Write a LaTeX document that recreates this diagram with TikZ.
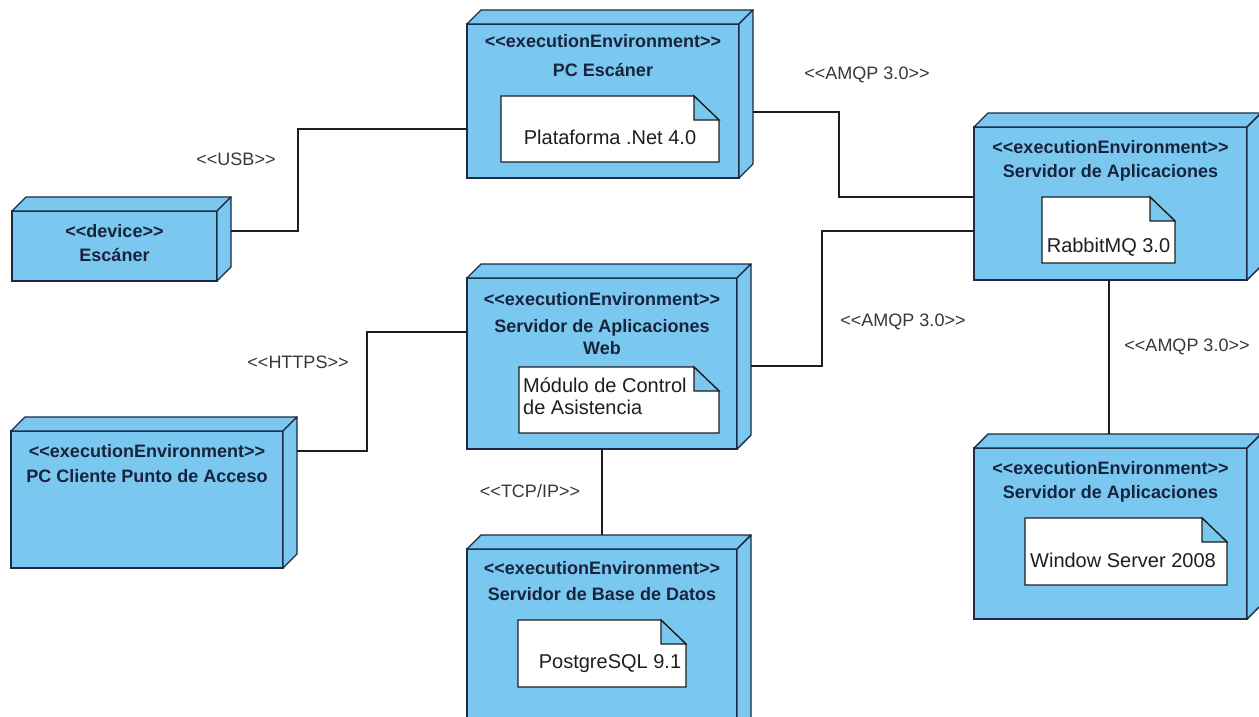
\documentclass[tikz,border=0pt]{standalone}
\usepackage{fontspec}
\setmainfont{Liberation Sans}[Ligatures=TeXOff]
\usetikzlibrary{calc}

\definecolor{nodeblue}{RGB}{122,199,240}
\definecolor{edgenavy}{RGB}{28,42,68}
\definecolor{headtext}{RGB}{24,36,60}
\definecolor{labelgray}{RGB}{55,55,55}
\definecolor{inkdark}{RGB}{30,30,30}

\tikzset{
  frontface/.style={draw=edgenavy, fill=nodeblue, line width=1.4pt,
    inner sep=0pt, outer sep=0pt, anchor=north west},
  depthface/.style={draw=edgenavy, fill=nodeblue, line width=1.4pt, line join=round},
  headline/.style={font=\bfseries\fontsize{18}{22}\selectfont, text=headtext,
    anchor=base, inner sep=0pt},
  notebody/.style={inner sep=0pt, outer sep=0pt, anchor=north west},
  noteline/.style={draw=inkdark, fill=white, line width=1.3pt},
  notefold/.style={draw=inkdark, fill=nodeblue, line width=1.3pt},
  notetext/.style={font=\fontsize{20}{22}\selectfont, text=inkdark,
    anchor=base, inner sep=0pt},
  conn/.style={draw=inkdark, line width=1.3pt},
  connlabel/.style={font=\fontsize{18}{20}\selectfont, text=labelgray, inner sep=1pt},
}

% deployment node: name, left, top, width, height (3D box, depth 14)
\newcommand\depnode[5]{%
  \node[frontface, minimum width=#4pt, minimum height=#5pt] (#1) at (#2,#3) {};
  \path[depthface] (#1.north west) -- ++(14,-14) -- ($(#1.north east)+(14,-14)$)
    -- (#1.north east) -- cycle;
  \path[depthface] (#1.north east) -- ($(#1.north east)+(14,-14)$)
    -- ($(#1.south east)+(14,-14)$) -- (#1.south east) -- cycle;
}

% note with folded corner: name, left, top, width, height
\newcommand\umlnote[5]{%
  \node[notebody, minimum width=#4pt, minimum height=#5pt] (#1) at (#2,#3) {};
  \path[noteline] (#1.north west) -- ($(#1.north east)+(-25,0)$)
    -- ($(#1.north east)+(0,24)$) -- (#1.south east) -- (#1.south west) -- cycle;
  \path[notefold] ($(#1.north east)+(-25,0)$) -- ($(#1.north east)+(-25,24)$)
    -- ($(#1.north east)+(0,24)$) -- cycle;
}

\begin{document}
\begin{tikzpicture}[x=1pt, y=-1pt]
\useasboundingbox (0,0) rectangle (1259,717);
\clip (0,0) rectangle (1259,717);

% nodes
\depnode{pce}{467}{24}{272}{154}
\depnode{dev}{12}{211}{205}{70}
\depnode{srv}{974}{127}{273}{153}
\depnode{web}{467}{278}{270}{171}
\depnode{cli}{11}{431}{272}{137}
\depnode{bd}{467}{549}{270}{190}
\depnode{win}{974}{448}{273}{171}

% node titles
\node[headline] (pceA) at ($(pce.north)+(0,24)$) {<<executionEnvironment>>};
\node[headline] (pceB) at ($(pce.north)+(0,53)$) {PC Escáner};

\node[headline] (devA) at ($(dev.north)+(0,26)$) {<<device>>};
\node[headline] (devB) at ($(dev.north)+(0,50)$) {Escáner};

\node[headline] (srvA) at ($(srv.north)+(0,26)$) {<<executionEnvironment>>};
\node[headline] (srvB) at ($(srv.north)+(0,50)$) {Servidor de Aplicaciones};

\node[headline] (webA) at ($(web.north)+(0,27)$) {<<executionEnvironment>>};
\node[headline] (webB) at ($(web.north)+(0,54)$) {Servidor de Aplicaciones};
\node[headline] (webC) at ($(web.north)+(0,76)$) {Web};

\node[headline] (cliA) at ($(cli.north)+(0,26)$) {<<executionEnvironment>>};
\node[headline] (cliB) at ($(cli.north)+(0,51)$) {PC Cliente Punto de Acceso};

\node[headline] (bdA) at ($(bd.north)+(0,25)$) {<<executionEnvironment>>};
\node[headline] (bdB) at ($(bd.north)+(0,51)$) {Servidor de Base de Datos};

\node[headline] (winA) at ($(win.north)+(0,26)$) {<<executionEnvironment>>};
\node[headline] (winB) at ($(win.north)+(0,50)$) {Servidor de Aplicaciones};

% artifacts inside the nodes
\umlnote{netnote}{501}{96}{218}{66}
\node[notetext] (netT) at ($(netnote.north)+(0,48)$) {Plataforma .Net 4.0};

\umlnote{rabbitnote}{1042}{197}{133}{66}
\node[notetext] (rabbitT) at ($(rabbitnote.north)+(0,55)$) {RabbitMQ 3.0};

\umlnote{modnote}{519}{367}{200}{66}
\node[notetext, anchor=base west] (modT1) at ($(modnote.north west)+(4,25)$) {Módulo de Control};
\node[notetext, anchor=base west] (modT2) at ($(modnote.north west)+(4,47)$) {de Asistencia};

\umlnote{pgnote}{518}{620}{168}{67}
\node[notetext] (pgT) at ($(pgnote.north)+(8,48)$) {PostgreSQL 9.1};

\umlnote{winnote}{1025}{518}{202}{67}
\node[notetext] (winT) at ($(winnote.north)+(-3,49)$) {Window Server 2008};

% connectors
\draw[conn] ($(dev.north east)+(14,20)$) -| ($(pce.north west)+(-169,105)$)
  -- ($(pce.north west)+(0,105)$);
\draw[conn] ($(cli.north east)+(14,20)$) -| ($(web.north west)+(-100,54)$)
  -- ($(web.north west)+(0,54)$);
\draw[conn] ($(pce.north east)+(14,88)$) -| ($(srv.north west)+(-135,70)$)
  -- ($(srv.north west)+(0,70)$);
\draw[conn] ($(web.north east)+(14,88)$) -| ($(srv.north west)+(-152,104)$)
  -- ($(srv.north west)+(0,104)$);
\draw[conn] ($(srv.south west)+(135,0)$) -- ($(win.north west)+(135,-14)$);
\draw[conn] ($(web.south west)+(135,0)$) -- ($(bd.north west)+(135,-14)$);

% connector labels
\node[connlabel] (lusb) at (236,159) {<<USB>>};
\node[connlabel] (lhttps) at (298,362) {<<HTTPS>>};
\node[connlabel] (lamqpA) at (867,75) {<<AMQP 3.0>>};
\node[connlabel] (lamqpB) at (903,322) {<<AMQP 3.0>>};
\node[connlabel] (lamqpC) at (1187,347) {<<AMQP 3.0>>};
\node[connlabel] (ltcp) at (530,491) {<<TCP/IP>>};
\end{tikzpicture}
\end{document}
